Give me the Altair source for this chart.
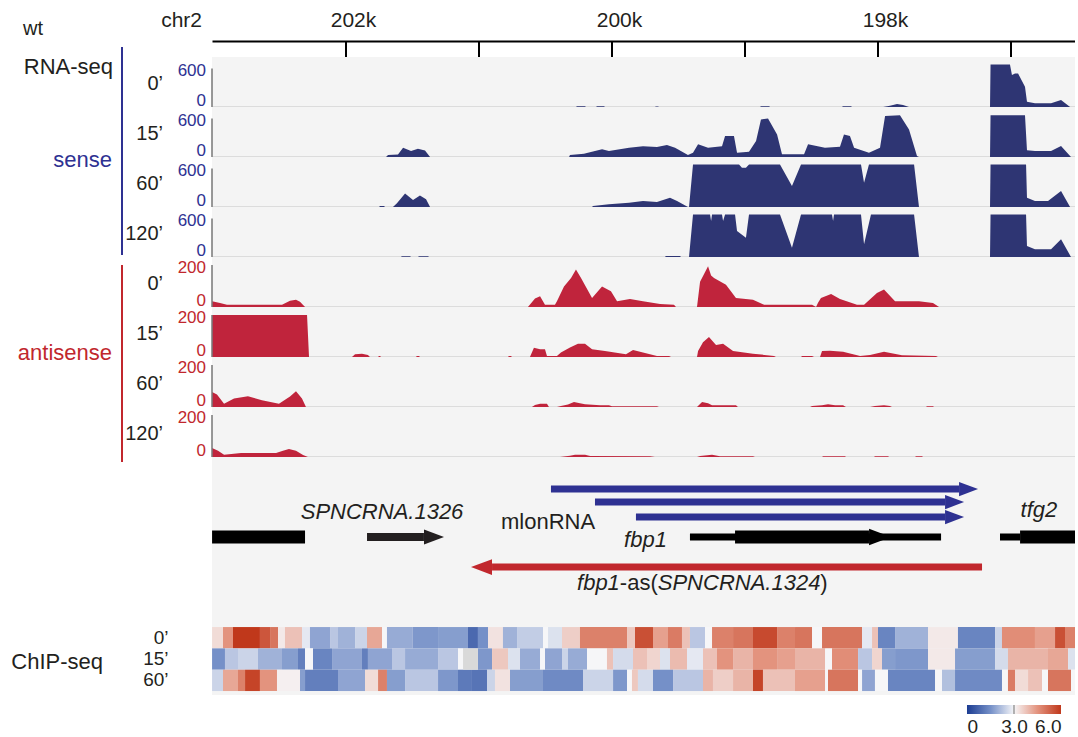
import altair as alt
import pandas as pd

FONT = "Liberation Sans"
W = 863
X_DOMAIN = [196519, 203007.5]  # bp, drawn right-to-left

BLUE_FILL = "#2e3573"
RED_FILL = "#c0243c"
BLUE_TXT = "#2e3192"
RED_TXT = "#c1272d"
INK = "#231f20"
BG = "#f4f4f4"

RULER_TICKS_KB = [202, 201, 200, 199, 198, 197]
RULER_LABELS_KB = [202, 200, 198]
TIMES = ["0’", "15’", "60’", "120’"]

# ---- RNA-seq coverage (kb position, reads) ----
SENSE_0 = [(200.271,0),(200.263,10),(200.203,10),(200.196,0),(200.120,0),(200.113,10),(200.060,10),(200.053,0),
           (199.677,0),(199.670,8),(199.654,8),(199.647,0),(198.887,0),(198.880,10),(198.819,10),(198.812,0),
           (198.271,0),(198.263,10),(198.203,10),(198.196,0),(197.962,0),(197.910,20),(197.857,47),(197.812,30),(197.767,0),
           (197.158,0),(197.154,662),(197.008,662),(196.993,500),(196.970,523),(196.947,523),(196.895,316),(196.880,83),
           (196.820,57),(196.699,57),(196.624,109),(196.556,0)]
SENSE_15 = [(201.699,0),(201.684,31),(201.609,40),(201.571,145),(201.511,93),(201.459,130),(201.406,100),(201.368,0),
            (200.323,0),(200.316,31),(200.211,52),(200.075,119),(200.023,93),(199.872,145),(199.767,166),(199.662,155),
            (199.587,186),(199.526,145),(199.429,31),(199.391,67),(199.353,197),(199.278,145),(199.173,166),(199.150,326),
            (199.083,326),(199.060,67),(198.970,83),(198.917,249),(198.880,585),(198.827,600),(198.759,352),(198.722,41),
            (198.556,41),(198.526,197),(198.399,145),(198.286,160),(198.256,352),(198.211,326),(198.180,145),(198.068,67),
            (197.985,145),(197.947,637),(197.835,650),(197.767,430),(197.707,16),(197.692,0),
            (197.158,0),(197.154,650),(196.895,650),(196.880,104),(196.820,93),(196.699,93),(196.624,171),(196.549,0)]
SENSE_60 = [(201.752,0),(201.744,16),(201.714,16),(201.707,0),(201.647,0),(201.617,60),(201.556,212),(201.496,109),
            (201.444,181),(201.398,120),(201.368,0),(200.150,0),(200.143,16),(200.023,41),(199.872,67),(199.767,93),
            (199.662,78),(199.564,145),(199.511,93),(199.429,0),(199.421,0),(199.391,663),(199.045,663),(199.023,611),
            (198.993,611),(198.970,663),(198.737,663),(198.647,326),(198.579,663),(198.128,663),(198.105,378),(198.068,663),
            (197.729,663),(197.692,0),(197.158,0),(197.154,663),(196.887,663),(196.880,145),(196.820,93),(196.722,93),
            (196.624,249),(196.556,0)]
SENSE_120 = [(201.587,0),(201.580,10),(201.519,10),(201.511,0),(201.459,0),(201.451,10),(201.383,10),(201.376,0),
             (199.602,0),(199.595,16),(199.489,16),(199.481,0),(199.421,0),(199.391,663),(199.263,663),(199.255,560),
             (199.248,663),(199.173,663),(199.165,560),(199.150,663),(199.075,663),(199.060,404),(198.993,300),(198.970,663),
             (198.737,663),(198.647,145),(198.579,663),(198.346,663),(198.338,560),(198.331,663),(198.128,663),(198.105,197),
             (198.053,663),(197.729,663),(197.692,0),(197.158,0),(197.154,663),(196.887,663),(196.880,171),(196.820,119),
             (196.699,119),(196.624,275),(196.549,0)]

ANTI_0 = [(203.007,27),(202.947,19),(202.895,11),(202.481,11),(202.421,30),(202.376,35),(202.346,25),(202.308,0),
          (200.632,0),(200.579,40),(200.541,51),(200.504,11),(200.429,11),(200.414,27),(200.361,98),(200.308,138),
          (200.271,178),(200.233,138),(200.150,43),(200.075,98),(200.008,75),(199.962,27),(199.865,38),(199.767,27),
          (199.639,14),(199.534,11),(199.519,0),(199.361,0),(199.338,120),(199.301,165),(199.278,194),(199.255,150),
          (199.233,138),(199.143,106),(199.068,43),(198.940,35),(198.857,11),(198.496,11),(198.466,0),(198.451,20),
          (198.429,43),(198.353,62),(198.286,38),(198.158,11),(198.105,11),(198.008,67),(197.955,83),(197.872,27),
          (197.692,27),(197.587,19),(197.541,0)]
ANTI_15 = [(203.007,200),(202.293,200),(202.278,0),(201.955,0),(201.932,13),(201.880,16),(201.835,10),(201.820,0),
           (201.759,0),(201.752,5),(201.744,5),(201.737,0),(201.474,0),(201.467,5),(201.451,5),(201.444,0),
           (200.782,0),(200.775,5),(200.760,5),(200.752,0),(200.617,0),(200.587,44),(200.541,37),(200.504,37),
           (200.489,5),(200.414,5),(200.384,21),(200.316,45),(200.256,63),(200.203,63),(200.150,37),(200.053,29),
           (199.895,13),(199.842,33),(199.767,21),(199.662,5),(199.571,5),(199.556,0),(199.361,0),(199.353,29),
           (199.316,70),(199.271,95),(199.218,57),(199.165,63),(199.090,29),(198.940,16),(198.782,5),(198.767,0),
           (198.579,0),(198.571,5),(198.496,5),(198.481,0),(198.436,0),(198.421,29),(198.361,30),(198.263,25),
           (198.135,5),(198.060,10),(197.955,25),(197.820,8),(197.564,5),(197.549,0)]
ANTI_60 = [(203.007,71),(202.970,60),(202.917,16),(202.842,40),(202.737,51),(202.632,32),(202.504,16),(202.421,50),
           (202.376,75),(202.331,40),(202.301,0),(200.602,0),(200.579,10),(200.541,16),(200.489,16),(200.474,0),
           (200.414,0),(200.384,5),(200.331,12),(200.286,24),(200.241,18),(200.203,13),(200.090,8),(200.023,8),
           (200.000,3),(199.662,3),(199.647,0),(199.361,0),(199.323,24),(199.278,18),(199.248,8),(199.068,8),(199.053,0),
           (198.511,0),(198.496,5),(198.421,8),(198.376,13),(198.323,8),(198.263,8),(198.241,0),(198.060,0),(198.023,5),
           (197.955,8),(197.910,5),(197.895,0),(197.639,0),(197.632,3),(197.587,3),(197.579,0)]
ANTI_120 = [(203.007,43),(202.962,30),(202.917,11),(202.789,19),(202.526,19),(202.474,30),(202.429,38),(202.376,30),
            (202.323,10),(202.286,0),(200.391,0),(200.316,6),(200.278,11),(200.203,11),(200.165,5),(199.714,3),(199.677,0),
            (199.361,0),(199.338,5),(199.248,11),(199.188,4),(198.940,3),(198.925,0),(198.421,0),(198.413,3),(198.248,3),
            (198.241,0),(198.030,0),(198.023,3),(197.925,3),(197.917,0),(197.722,0),(197.714,3),(197.669,3),(197.662,0)]

# ---- gene annotation: (start kb, end kb, lane y, thickness, colour) ----
BLUE_A = "#2e3192"
RED_A = "#c1272d"
BLACK = "#000000"
FEATURES = [(200.459,197.391,32,7,BLUE_A),(200.128,197.496,45,7,BLUE_A),(199.820,197.496,60,7,BLUE_A),
            (203.007,202.308,80,13,BLACK),(201.842,201.414,80,8,INK),(199.414,197.526,80,7,BLACK),
            (199.075,198.068,80,13,BLACK),(197.083,196.932,80,7,BLACK),(196.932,196.519,80,13,BLACK),
            (200.902,197.218,110,7,RED_A)]
# arrow heads: (tip kb, lane y, head length, colour)
HEADS_RIGHT = [(197.248,32,19,BLUE_A),(197.353,45,19,BLUE_A),(197.353,60,19,BLUE_A),(201.263,80,20,INK),(197.902,80,22,BLACK)]
HEADS_LEFT = [(201.060,110,21,RED_A)]
GENE_LABELS = [("SPNCRNA.1326",201.729,55,"italic"),("mlonRNA",200.481,65,"normal"),("fbp1",199.748,83,"italic"),
               ("tfg2",196.790,53,"italic")]
AS_LABEL = [("fbp1",200.263,"italic"),("-as(",199.941,"normal"),("SPNCRNA.1324",199.656,"italic"),(")",198.435,"normal")]

# ---- ChIP-seq heatmap segments: (start kb, value) ----
HEAT_ROWS = ["0’", "15’", "60’"]
HEAT_0 = [(203.007,3.4),(202.925,4.5),(202.850,6.0),(202.647,5.5),(202.571,5.0),(202.511,3.2),(202.459,3.8),(202.331,2.8),
          (202.271,1.8),(202.120,2.3),(202.060,2.0),(201.932,2.5),(201.842,4.2),(201.729,3.0),(201.692,1.9),(201.500,1.6),
          (201.308,1.7),(201.083,0.8),(201.008,1.5),(200.932,3.3),(200.820,2.0),(200.714,2.4),(200.519,3.0),(200.481,2.7),
          (200.376,3.6),(200.241,4.8),(199.887,3.7),(199.827,5.6),(199.692,4.3),(199.579,4.9),(199.474,3.8),(199.414,2.3),
          (199.301,3.0),(199.248,4.8),(199.090,5.0),(198.940,5.7),(198.759,4.8),(198.624,5.0),(198.496,3.0),(198.421,5.0),
          (198.120,2.8),(198.045,3.8),(198.000,1.3),(197.872,2.0),(197.624,3.2),(197.399,1.3),(197.120,2.5),(197.068,4.6),
          (196.820,4.3),(196.669,5.6),(196.594,4.8)]
HEAT_15 = [(203.007,1.5),(202.910,2.3),(202.812,2.5),(202.662,2.0),(202.481,1.7),(202.361,1.2),(202.308,3.0),(202.248,1.3),
           (202.105,1.8),(201.880,1.2),(201.835,1.8),(201.654,2.3),(201.556,1.9),(201.308,2.3),(201.158,3.0),(201.120,None),
           (201.008,1.6),(200.902,3.7),(200.782,2.7),(200.692,1.9),(200.541,3.0),(200.504,1.8),(200.376,2.5),(200.331,1.9),
           (200.188,3.0),(200.038,3.8),(199.992,2.6),(199.842,3.8),(199.737,3.5),(199.639,2.7),(199.564,3.9),(199.436,2.8),
           (199.316,3.8),(199.211,4.5),(199.090,4.0),(198.940,4.5),(198.759,4.3),(198.624,4.0),(198.398,3.0),(198.346,4.6),
           (198.150,2.3),(198.045,3.5),(197.970,1.7),(197.872,1.6),(197.624,3.2),(197.421,1.7),(197.120,2.6),(197.023,4.0),
           (196.722,4.2),(196.571,2.7)]
HEAT_60 = [(203.007,2.5),(202.925,4.2),(202.812,4.8),(202.759,5.8),(202.647,4.5),(202.519,3.1),(202.346,1.7),(202.308,1.2),
           (202.060,1.8),(201.857,3.4),(201.759,4.8),(201.692,1.7),(201.556,2.3),(201.308,1.6),(201.158,1.1),(201.053,1.0),
           (200.940,2.5),(200.880,3.3),(200.767,1.7),(200.519,1.4),(200.218,2.5),(199.992,1.6),(199.887,3.0),(199.850,3.7),
           (199.805,2.6),(199.692,1.5),(199.541,2.3),(199.316,4.0),(199.241,3.6),(199.090,4.0),(198.940,5.8),(198.865,3.8),
           (198.624,4.3),(198.398,3.0),(198.376,5.0),(198.150,3.0),(198.120,1.8),(198.023,3.0),(197.925,1.3),(197.571,3.0),
           (197.519,2.2),(197.421,1.4),(197.068,3.0),(197.023,4.9),(196.970,3.4),(196.872,3.8),(196.767,3.0),(196.722,5.0),
           (196.549,3.0)]
HEAT_END_KB = 196.519
HEAT_STOPS = [0, 1.5, 3, 4.5, 6]
HEAT_COLORS = ["#1c3c92", "#7590c8", "#f6f6f8", "#e3937e", "#c0381b"]
CB_LABELS = [0, 3, 6]


def xscale():
    return alt.Scale(domain=X_DOMAIN, reverse=True, nice=False, zero=False)


def text_layer(t, x, y, size, color=INK, align="right", style="normal"):
    return alt.Chart(pd.DataFrame({"t": [t]})).mark_text(
        align=align, baseline="middle", fontSize=size, font=FONT, color=color, fontStyle=style
    ).encode(text="t:N", x=alt.value(x), y=alt.value(y))


def vline(y0, y1, color):
    return alt.Chart(pd.DataFrame({"a": [0]})).mark_rule(color=color, strokeWidth=2).encode(
        x=alt.value(-90), y=alt.value(y0), y2=alt.value(y1))


def track(points, ymax, tick, fill, lab_color, label, extras=()):
    df = pd.DataFrame({"pos": [p[0] * 1000 for p in points], "v": [p[1] for p in points]})
    ysc = alt.Scale(domain=[0, ymax], nice=False, zero=True)
    area = alt.Chart(df).mark_area(color=fill, interpolate="linear").encode(
        x=alt.X("pos:Q", scale=xscale(), axis=alt.Axis(labels=False, ticks=False, domain=True,
                domainColor="#c4c4c4", domainWidth=2, grid=False, title=None)),
        y=alt.Y("v:Q", scale=ysc, stack=None, axis=alt.Axis(
            values=[tick], tickSize=4, tickColor="#444444", tickWidth=1.5, domain=False, grid=False,
            labels=False, title=None)),
    )
    axline = alt.Chart(pd.DataFrame({"a": [0], "b": [tick]})).mark_rule(color="#777777", strokeWidth=1.5).encode(
        x=alt.value(0), y=alt.Y("a:Q", scale=ysc, axis=None), y2="b:Q")
    top_lab = alt.Chart(pd.DataFrame({"a": [tick], "t": [str(tick)]})).mark_text(
        align="right", baseline="middle", dy=3, fontSize=17, font=FONT, color=lab_color).encode(
        x=alt.value(-6), y=alt.Y("a:Q", scale=ysc, axis=None), text="t:N")
    zero_lab = alt.Chart(pd.DataFrame({"a": [0], "t": ["0"]})).mark_text(
        align="right", baseline="alphabetic", dy=-1, fontSize=17, font=FONT, color=lab_color).encode(
        x=alt.value(-6), y=alt.Y("a:Q", scale=ysc, axis=None), text="t:N")
    lab = text_layer(label, -49, 27, 20)
    return alt.layer(area, axline, top_lab, zero_lab, lab, *extras).properties(
        width=W, height=50, view=alt.ViewBackground(fill=BG, stroke=None))


# ---- ruler ----
pin = alt.Chart(pd.DataFrame({"a": [0]})).mark_rule(opacity=0, color="white").encode(
    x=alt.value(-212), x2=alt.value(-211), y=alt.value(-41), y2=alt.value(-40))
ruler_ticks = alt.Chart(pd.DataFrame({"pos": [k * 1000 for k in RULER_TICKS_KB]})).mark_rule(
    color="black", strokeWidth=2).encode(
    x=alt.X("pos:Q", scale=xscale(), axis=alt.Axis(
        orient="top", values=[k * 1000 for k in RULER_LABELS_KB],
        labelExpr="format(datum.value/1000, 'd') + 'k'", domain=True, domainColor="black", domainWidth=2,
        ticks=False, labelFontSize=21, labelPadding=11, labelOffset=7, grid=False, title=None,
        labelFont=FONT, labelColor=INK)),
    y=alt.value(0), y2=alt.value(16))
ruler = alt.layer(pin, ruler_ticks, text_layer("wt", -189, -12, 20, align="left"),
                  text_layer("chr2", -10, -20, 21)).properties(
    width=W, height=16, view=alt.ViewBackground(fill=None, stroke=None))

# ---- tracks ----
sense_data = [SENSE_0, SENSE_15, SENSE_60, SENSE_120]
anti_data = [ANTI_0, ANTI_15, ANTI_60, ANTI_120]
panels = [ruler]
for k, (pts, t) in enumerate(zip(sense_data, TIMES)):
    extras = []
    if k == 0:
        extras = [vline(-10, 198, BLUE_TXT), text_layer("RNA-seq", -99, 10, 22),
                  text_layer("sense", -100, 103, 22, color=BLUE_TXT)]
    panels.append(track(pts, 779, 600, BLUE_FILL, BLUE_TXT, t, extras))
for k, (pts, t) in enumerate(zip(anti_data, TIMES)):
    extras = []
    if k == 0:
        extras = [vline(8, 205, RED_TXT), text_layer("antisense", -100, 96, 22, color=RED_TXT)]
    panels.append(track(pts, 238, 200, RED_FILL, RED_TXT, t, extras))

# ---- annotation ----
ay = alt.Scale(domain=[0, 163], reverse=True, nice=False, zero=False)
fdf = pd.DataFrame([{"s": a * 1000, "e": b * 1000, "y0": y - h / 2, "y1": y + h / 2, "c": c}
                    for a, b, y, h, c in FEATURES])
feat = alt.Chart(fdf).mark_rect().encode(
    x=alt.X("s:Q", scale=xscale(), axis=None), x2="e:Q",
    y=alt.Y("y0:Q", scale=ay, axis=None), y2="y1:Q", color=alt.Color("c:N", scale=None))
RIGHT_PATH = "M -2 -0.75 L 0 0 L -2 0.75 Z"
LEFT_PATH = "M 2 -0.75 L 0 0 L 2 0.75 Z"


def heads(rows, path):
    d = pd.DataFrame([{"x": a * 1000, "y": y, "s": L * L, "c": c} for a, y, L, c in rows])
    return alt.Chart(d).mark_point(shape=path, filled=True, opacity=1, strokeWidth=0).encode(
        x=alt.X("x:Q", scale=xscale(), axis=None), y=alt.Y("y:Q", scale=ay, axis=None),
        size=alt.Size("s:Q", scale=None), color=alt.Color("c:N", scale=None))


glabels = []
for t, kb, y, st in GENE_LABELS:
    glabels.append(alt.Chart(pd.DataFrame({"t": [t], "x": [kb * 1000], "y": [y]})).mark_text(
        align="center", baseline="middle", fontSize=22, font=FONT, color=INK, fontStyle=st).encode(
        text="t:N", x=alt.X("x:Q", scale=xscale(), axis=None), y=alt.Y("y:Q", scale=ay, axis=None)))
for t, kb, st in AS_LABEL:
    glabels.append(alt.Chart(pd.DataFrame({"t": [t], "x": [kb * 1000], "y": [126]})).mark_text(
        align="left", baseline="middle", fontSize=22, font=FONT, color=INK, fontStyle=st).encode(
        text="t:N", x=alt.X("x:Q", scale=xscale(), axis=None), y=alt.Y("y:Q", scale=ay, axis=None)))
annot = alt.layer(feat, heads(HEADS_RIGHT, RIGHT_PATH), heads(HEADS_LEFT, LEFT_PATH), *glabels).properties(
    width=W, height=163, view=alt.ViewBackground(fill=BG, stroke=None))

# ---- heatmap ----
hrows = []
for name, segs in zip(HEAT_ROWS, [HEAT_0, HEAT_15, HEAT_60]):
    for k, (s, v) in enumerate(segs):
        e = segs[k + 1][0] if k + 1 < len(segs) else HEAT_END_KB
        hrows.append({"row": name, "s": s * 1000, "e": e * 1000, "v": v})
hdf = pd.DataFrame(hrows)
yband = alt.Y("row:N", sort=HEAT_ROWS, scale=alt.Scale(paddingInner=0, paddingOuter=0.258, align=0.64),
              axis=alt.Axis(domain=False, ticks=False, labelPadding=44, labelFontSize=19, labelFont=FONT,
                            labelColor=INK, title=None))
hbase = alt.Chart(hdf)
heat = hbase.transform_filter("isValid(datum.v)").mark_rect().encode(
    x=alt.X("s:Q", scale=xscale(), axis=None), x2="e:Q", y=yband,
    color=alt.Color("v:Q", scale=alt.Scale(domain=HEAT_STOPS, range=HEAT_COLORS, interpolate="rgb"), legend=None))
heat_na = hbase.transform_filter("!isValid(datum.v)").mark_rect(color="#d9d9d9").encode(
    x=alt.X("s:Q", scale=xscale(), axis=None), x2="e:Q", y=yband)
heatmap = alt.layer(heat, heat_na, text_layer("ChIP-seq", -109, 42, 22)).properties(
    width=W, height=75, view=alt.ViewBackground(fill=BG, stroke=None))

# ---- colour bar ----
cbx = alt.Scale(domain=[-48.19, 6.894], nice=False, zero=False)
grad = alt.LinearGradient(gradient="linear", x1=0, x2=1, y1=0, y2=0, stops=[
    alt.GradientStop(offset=s / 6, color=c) for s, c in zip(HEAT_STOPS, HEAT_COLORS)])
cbar = alt.Chart(pd.DataFrame({"lo": [HEAT_STOPS[0]], "hi": [HEAT_STOPS[-1]]})).mark_rect(fill=grad).encode(
    x=alt.X("lo:Q", scale=cbx, axis=alt.Axis(
        values=CB_LABELS, labelExpr="datum.value == 0 ? '0' : format(datum.value, '.1f')",
        domain=False, ticks=False, grid=False, labelPadding=3, labelFontSize=19, labelFont=FONT,
        labelColor=INK, title=None,
        labelAlign={"condition": [{"test": "datum.value == 0", "value": "left"},
                                  {"test": "datum.value == 6", "value": "right"}], "value": "center"})),
    x2="hi:Q", y=alt.value(10), y2=alt.value(19))
cmark = alt.Chart(pd.DataFrame({"m": [3]})).mark_rule(color="#9a9a9a", strokeWidth=1.5).encode(
    x=alt.X("m:Q", scale=cbx), y=alt.value(10), y2=alt.value(19))
colorbar = alt.layer(cbar, cmark).properties(width=W, height=19, view=alt.ViewBackground(fill=None, stroke=None))

panels += [annot, heatmap, colorbar]

chart = alt.vconcat(*panels, spacing=0, bounds="flush").resolve_scale(
    x="independent", y="independent", color="independent").properties(
    padding=0, config=alt.Config(font=FONT, view=alt.ViewConfig(stroke=None)))

chart.save("out.html", embed_options={"renderer": "svg", "actions": False})
